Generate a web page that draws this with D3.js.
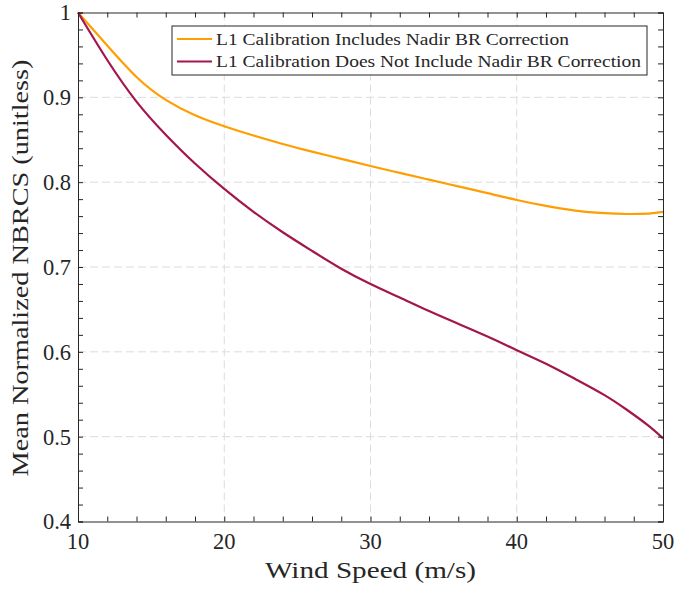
<!DOCTYPE html>
<html lang="en">
  <head>
    <meta charset="utf-8" />
    <title>Mean Normalized NBRCS vs Wind Speed</title>
    <script src="https://cdnjs.cloudflare.com/ajax/libs/d3/7.8.5/d3.min.js"></script>
    <style type="text/css">
      body { margin: 0; background: #fff; overflow: hidden; }
      svg { display: block; }
      text { font-family: "Liberation Serif", "Times New Roman", serif; fill: #262626; }
      .axis path, .axis line { stroke: #262626; stroke-width: 1; }
      .grid line { stroke: #dcdcdc; stroke-dasharray: 8, 4; stroke-width: 1; }
    </style>
  </head>
  <body>
    <div id="chart"></div>
    <script>
      // Data.
      const windSpeed = [10, 12, 14, 16, 18, 20, 22, 24, 26, 28, 30, 32, 34, 36, 38, 40, 42, 44, 46, 47.5, 49, 50];
      const withCorrection = [1.0, 0.961, 0.924, 0.897, 0.879, 0.866, 0.855, 0.845, 0.836, 0.8275, 0.819, 0.811, 0.803, 0.795, 0.787, 0.779, 0.772, 0.7665, 0.7635, 0.7625, 0.763, 0.765];
      const withoutCorrection = [1.0, 0.944, 0.895, 0.856, 0.822, 0.792, 0.765, 0.741, 0.719, 0.698, 0.680, 0.664, 0.648, 0.633, 0.618, 0.602, 0.586, 0.568, 0.549, 0.532, 0.513, 0.498];
      const seriesNames = ['L1 Calibration Includes Nadir BR Correction', 'L1 Calibration Does Not Include Nadir BR Correction'];
      const seriesWidths = [353, 425];
      const seriesColors = ['#ff9e00', '#a3164c'];
      const xTicks = [10, 20, 30, 40, 50];
      const yTicks = [0.4, 0.5, 0.6, 0.7, 0.8, 0.9, 1];

      const outerWidth = 674;
      const outerHeight = 589;
      const margin = { top: 12.5, right: 11, bottom: 67.5, left: 78 };
      const innerWidth = outerWidth - margin.left - margin.right;
      const innerHeight = outerHeight - margin.top - margin.bottom;

      const svg = d3.select('#chart').append('svg')
        .attr('width', outerWidth)
        .attr('height', outerHeight)
        .append('g')
          .attr('transform', `translate(${margin.left},${margin.top})`);

      const x = d3.scaleLinear().domain([10, 50]).range([0, innerWidth]);
      const y = d3.scaleLinear().domain([0.4, 1]).range([innerHeight, 0]);

      const xMinor = d3.range(10, 50.001, 2);
      const yMinor = d3.range(0, 31).map(i => 0.4 + i * 0.02);

      // Grid lines.
      svg.append('g').attr('class', 'grid')
        .selectAll('line')
        .data(xTicks.slice(1, -1))
        .join('line')
          .attr('x1', d => x(d)).attr('x2', d => x(d))
          .attr('y1', 0).attr('y2', innerHeight);

      svg.append('g').attr('class', 'grid')
        .selectAll('line')
        .data(yTicks.slice(1, -1))
        .join('line')
          .attr('x1', 0).attr('x2', innerWidth)
          .attr('y1', d => y(d)).attr('y2', d => y(d));

      // Curves.
      const line = d3.line()
        .curve(d3.curveNatural)
        .x((d, i) => x(windSpeed[i]))
        .y(d => y(d));

      [withCorrection, withoutCorrection].forEach((s, i) => {
        svg.append('path')
          .datum(s)
          .attr('fill', 'none')
          .attr('stroke', seriesColors[i])
          .attr('stroke-width', 2.2)
          .attr('d', line);
      });

      // Axes, ticks pointing inward on all four sides.
      const tick = 5;
      svg.append('g').attr('class', 'axis')
        .attr('transform', `translate(0,${innerHeight})`)
        .call(d3.axisBottom(x).tickValues(xMinor).tickSize(-tick).tickFormat(''));
      svg.append('g').attr('class', 'axis')
        .call(d3.axisTop(x).tickValues(xMinor).tickSize(-tick).tickFormat(''));
      svg.append('g').attr('class', 'axis')
        .call(d3.axisLeft(y).tickValues(yMinor).tickSize(-tick).tickFormat(''));
      svg.append('g').attr('class', 'axis')
        .attr('transform', `translate(${innerWidth},0)`)
        .call(d3.axisRight(y).tickValues(yMinor).tickSize(-tick).tickFormat(''));

      // Tick labels.
      svg.append('g')
        .selectAll('text')
        .data(xTicks)
        .join('text')
          .attr('x', d => x(d))
          .attr('y', innerHeight + 27)
          .attr('text-anchor', 'middle')
          .attr('font-size', 22.5)
          .text(d => d);

      svg.append('g')
        .selectAll('text')
        .data(yTicks)
        .join('text')
          .attr('x', -7)
          .attr('y', d => y(d))
          .attr('dy', '0.35em')
          .attr('text-anchor', 'end')
          .attr('font-size', 22.5)
          .text(d => d === 1 ? '1' : d.toFixed(1));

      // Axis titles.
      svg.append('text')
        .attr('x', innerWidth / 2)
        .attr('y', innerHeight + 56)
        .attr('text-anchor', 'middle')
        .attr('font-size', 24)
        .attr('textLength', 211)
        .attr('lengthAdjust', 'spacingAndGlyphs')
        .text('Wind Speed (m/s)');

      svg.append('text')
        .attr('transform', `translate(${-margin.left + 28},${innerHeight / 2 + 1}) rotate(-90)`)
        .attr('text-anchor', 'middle')
        .attr('font-size', 24)
        .attr('textLength', 417)
        .attr('lengthAdjust', 'spacingAndGlyphs')
        .text('Mean Normalized NBRCS (unitless)');

      // Legend.
      const legend = svg.append('g')
        .attr('transform', `translate(${172 - margin.left},${26 - margin.top})`);
      legend.append('rect')
        .attr('width', 475)
        .attr('height', 49)
        .attr('fill', '#fff')
        .attr('stroke', '#262626')
        .attr('stroke-width', 1);
      seriesNames.forEach((name, i) => {
        const ly = 13 + i * 22.5;
        legend.append('line')
          .attr('x1', 5).attr('x2', 40)
          .attr('y1', ly).attr('y2', ly)
          .attr('stroke', seriesColors[i])
          .attr('stroke-width', 2.2);
        legend.append('text')
          .attr('x', 44)
          .attr('y', ly)
          .attr('dy', '0.35em')
          .attr('font-size', 17)
          .attr('textLength', seriesWidths[i])
          .attr('lengthAdjust', 'spacingAndGlyphs')
          .text(name);
      });
    </script>
  </body>
</html>
